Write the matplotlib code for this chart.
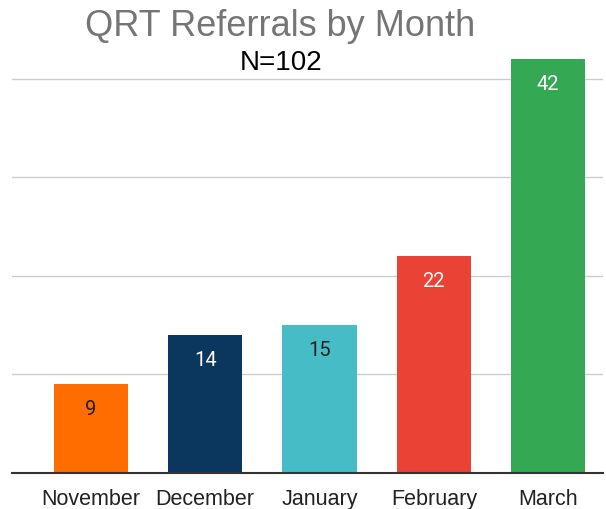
import matplotlib.pyplot as plt
import numpy as np

months = ["November", "December", "January", "February", "March"]
referrals = [9, 14, 15, 22, 42]
bar_colors = ["#FF6D01", "#0B375F", "#46BDC6", "#EA4335", "#34A853"]
label_colors = ["#222222", "white", "#222222", "white", "white"]

fig = plt.figure(figsize=(6.06, 5.10), dpi=100)
ax = fig.add_axes([12/606, 36/510, 591/606, 414/510])

x = np.arange(len(months))
bars = ax.bar(x, referrals, width=0.65, color=bar_colors, zorder=3)

for b, v, c in zip(bars, referrals, label_colors):
    ax.annotate(str(v), (b.get_x() + b.get_width()/2, v), xytext=(0, -17.5),
                textcoords="offset points", ha="center", va="center",
                fontsize=14.5, color=c, family="Roboto", zorder=4)

ax.set_xlim(-0.69, 4.48)
ax.set_ylim(0, 42)
ax.set_yticks([10, 20, 30, 40])
ax.yaxis.grid(True, color="#cccccc", linewidth=1, zorder=0)
ax.tick_params(axis="y", left=False, labelleft=False)
ax.set_xticks(x)
ax.set_xticklabels(months, fontsize=15.5, family="Liberation Sans", color="#222222")
ax.tick_params(axis="x", length=0, pad=10.5)
for s in ["top", "right", "left"]:
    ax.spines[s].set_visible(False)
ax.spines["bottom"].set_color("#333333")
ax.spines["bottom"].set_linewidth(1.5)
ax.spines["bottom"].set_zorder(5)

fig.text(280/606, 1 - 27/510, "QRT Referrals by Month", ha="center", va="center",
         fontsize=26, color="#757575", family="Liberation Sans")
fig.text(281/606, 1 - 63/510, "N=102", ha="center", va="center",
         fontsize=20, color="black", family="Liberation Sans")

fig.savefig("out.png", dpi=100)
